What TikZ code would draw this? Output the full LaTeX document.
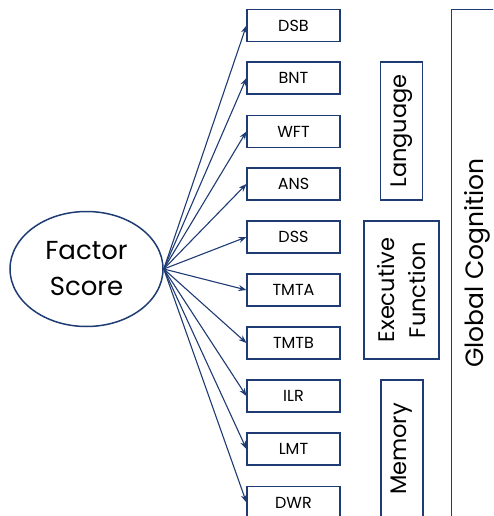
\documentclass[tikz,border=0pt]{standalone}
\usepackage{fontspec}
\setmainfont{Poppins}
\usetikzlibrary{arrows.meta,shapes.geometric}
\definecolor{navy}{HTML}{1F3B73}
\tikzset{
  measbox/.style={draw=navy,line width=1.1pt,minimum width=93pt,minimum height=32pt,inner sep=0pt,font=\fontsize{16}{18}\selectfont},
  grpbox/.style={draw=navy,line width=1.1pt,rotate=90,inner sep=0pt,align=center,font=\fontsize{22.5}{31}\selectfont},
  loadarrow/.style={draw=navy,line width=1.1pt,-{Stealth[length=8pt,width=6pt]}},
}
\begin{document}
\begin{tikzpicture}[x=1pt,y=-1pt]
\useasboundingbox (0,0) rectangle (493,516);
\clip (0,0) rectangle (493,516);
\node[ellipse,draw=navy,line width=1.5pt,minimum width=153pt,minimum height=115pt,inner sep=0pt,align=center,font=\fontsize{26}{36}\selectfont] (fs) at (86.5,269) {Factor\\Score};
\node[measbox] (dsb) at (293.5,25.5) {DSB};
\node[measbox] (bnt) at (293.5,78) {BNT};
\node[measbox] (wft) at (293.5,131.5) {WFT};
\node[measbox] (ans) at (293.5,184) {ANS};
\node[measbox] (dss) at (293.5,237) {DSS};
\node[measbox] (tmta) at (293.5,290) {TMTA};
\node[measbox] (tmtb) at (293.5,343) {TMTB};
\node[measbox] (ilr) at (293.5,396) {ILR};
\node[measbox] (lmt) at (293.5,449) {LMT};
\node[measbox] (dwr) at (293.5,502.5) {DWR};
\node[grpbox,minimum width=138pt,minimum height=42pt] (lang) at (401.7,131) {Language};
\node[grpbox,minimum width=138pt,minimum height=75pt] (exec) at (401.5,290) {Executive\\Function};
\node[grpbox,minimum width=138pt,minimum height=42pt] (mem) at (402,449) {Memory};
\node[grpbox,minimum width=507pt,minimum height=50.6pt,font=\fontsize{25}{28}\selectfont] (glob) at (477,263) {Global Cognition};
\foreach \t in {dsb,bnt,wft,ans,dss,tmta,tmtb,ilr,lmt,dwr}
  \draw[loadarrow] (fs.east) -- (\t.west);
\end{tikzpicture}
\end{document}
